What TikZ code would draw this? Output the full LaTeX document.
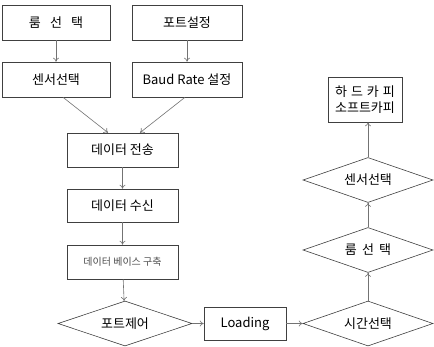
\documentclass[tikz,border=0pt]{standalone}
\usepackage{fontspec}
\setmainfont{Noto Sans CJK KR}
\usetikzlibrary{shapes.geometric,arrows.meta}
\begin{document}
\begin{tikzpicture}[x=1pt,y=-1pt,
  box/.style={draw=black!75,line width=0.6pt,rectangle,inner sep=0pt,font=\fontsize{13}{15}\selectfont},
  dia/.style={draw=black!75,line width=0.6pt,diamond,aspect=3,inner sep=0pt,minimum width=130pt,minimum height=45pt,font=\fontsize{13}{15}\selectfont},
  arr/.style={draw=black!55,line width=0.6pt,-{To[length=4pt,width=6pt]}}]
\useasboundingbox[fill=white] (0,0) rectangle (434,346);
\node[box,minimum width=108pt,minimum height=35pt] (r1) at (56,22.5) {룸\hspace{0.7em}선\hspace{0.7em}택};
\node[box,minimum width=110pt,minimum height=35pt] (p1) at (187,22.5) {포트설정};
\node[box,minimum width=108pt,minimum height=35pt] (s1) at (56,79.5) {센서선택};
\node[box,minimum width=110pt,minimum height=35pt] (b1) at (187,79.5) {Baud Rate 설정};
\node[box,minimum width=111pt,minimum height=34pt] (d1) at (122.5,150) {데이터 전송};
\node[box,minimum width=111pt,minimum height=33pt] (d2) at (122.5,205.5) {데이터 수신};
\node[box,minimum width=111pt,minimum height=34pt,font=\fontsize{10}{12}\selectfont,text=black!70] (d3) at (122.5,262) {데이터 베이스 구축};
\node[dia,minimum width=134pt] (pc) at (125,323.5) {포트제어};
\node[box,minimum width=82pt,minimum height=33pt] (ld) at (245,323.5) {Loading};
\node[dia] (tm) at (368,323.5) {시간선택};
\node[dia] (rm) at (368,250) {룸\hspace{0.4em}선\hspace{0.4em}택};
\node[dia] (sn) at (368,180) {센서선택};
\node[box,minimum width=74pt,minimum height=45pt,align=center,font=\fontsize{13}{16}\selectfont] (hc) at (365,99.5) {하\hspace{0.3em}드\hspace{0.3em}카\hspace{0.3em}피\\소프트카피};
\draw[arr] (r1) -- (s1);
\draw[arr] (p1) -- (b1);
\draw[arr] ([xshift=7pt]s1.south) -- ([xshift=-14.5pt]d1.north);
\draw[arr] ([xshift=-2pt]b1.south) -- ([xshift=17.5pt]d1.north);
\draw[arr] (d1) -- (d2);
\draw[arr] (d2) -- (d3);
\draw[arr] (d3) -- (pc);
\draw[arr] (pc) -- (ld);
\draw[arr] (ld) -- (tm);
\draw[arr] (tm) -- (rm);
\draw[arr] (rm) -- (sn);
\draw[arr] (sn.north) -- (sn.north |- hc.south);
\end{tikzpicture}
\end{document}
